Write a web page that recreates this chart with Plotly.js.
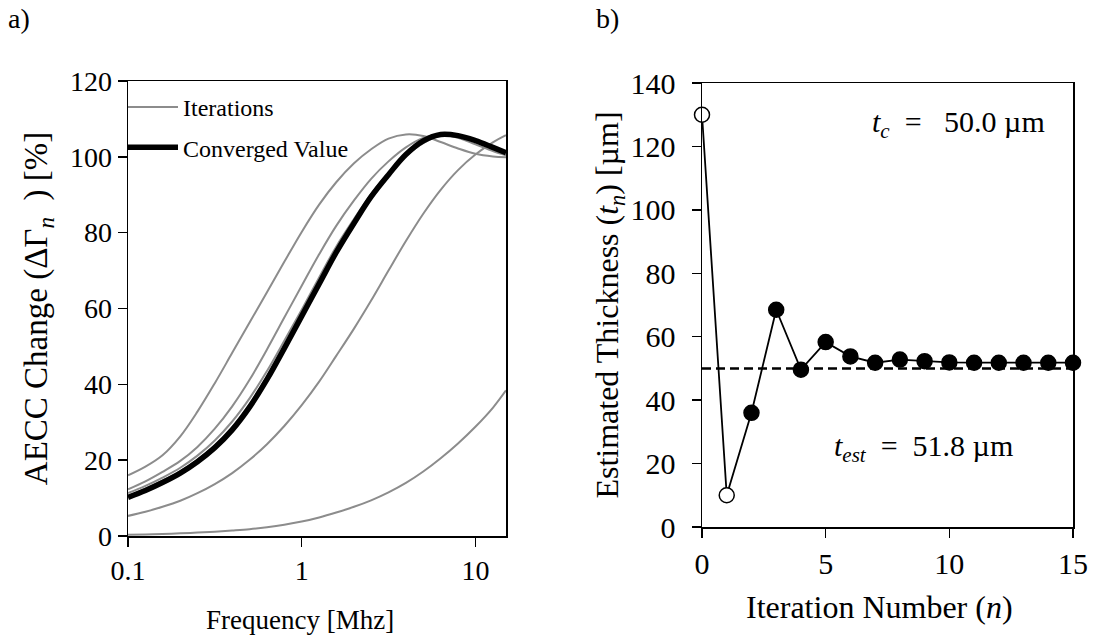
<!DOCTYPE html>
<html>
<head>
<meta charset="utf-8">
<script src="https://cdn.plot.ly/plotly-3.0.1.min.js"></script>
<style>html,body{margin:0;padding:0;background:#fff;}#chart{width:1097px;height:642px;}</style>
</head>
<body>
<div id="chart"></div>
<script>
// ---- Panel a) data ----
const freq = [0.1, 0.126, 0.158, 0.2, 0.251, 0.316, 0.398, 0.501, 0.631, 0.794, 1, 1.26, 1.58, 2, 2.51, 3.16, 3.98, 5.01, 6.31, 7.94, 10, 12.6, 15];
const iterA = [16, 18.3, 21.3, 26.3, 32.8, 40.3, 48.3, 56.3, 64.3, 72.3, 80.2, 87.4, 93.3, 98.3, 102, 104.8, 105.9, 105.5, 103.9, 102.2, 100.8, 100.1, 99.9];
const iterB = [12.3, 14.4, 16.9, 19.8, 23.5, 28.3, 34.2, 41.2, 49.2, 57.6, 66, 74.3, 81.8, 88.5, 94.2, 98.8, 102.5, 105, 105.8, 105, 103.3, 101.5, 100.4];
const iterC = [11.3, 13.2, 15.4, 18, 21.2, 25.2, 30.2, 36.3, 43.5, 51.5, 59.7, 68.2, 76.3, 83.6, 90.2, 95.7, 100.2, 103.6, 105.6, 105.6, 104, 101.9, 100.6];
const iterD = [10.6, 12.5, 14.6, 17.1, 20.1, 23.9, 28.7, 34.7, 42, 50.3, 58.9, 67.4, 75.6, 83.2, 90, 95.6, 100.3, 103.9, 105.8, 105.7, 104.2, 102.2, 100.8];
const iterE = [5.3, 6.4, 7.7, 9.3, 11.3, 13.7, 16.6, 20.1, 24.2, 29, 34.5, 40.7, 47.5, 54.7, 62.1, 70, 77.8, 85, 91.3, 96.5, 100.6, 103.8, 105.7];
const iterF = [0.3, 0.4, 0.55, 0.7, 0.9, 1.15, 1.45, 1.8, 2.3, 2.95, 3.8, 4.9, 6.2, 7.7, 9.4, 11.5, 14, 17, 20.5, 24.4, 28.8, 33.8, 38.4];
const converged = [10.2, 12, 14.1, 16.6, 19.6, 23.3, 28, 34, 41.3, 49.5, 58, 66.5, 74.8, 82.5, 89.5, 95.3, 100.6, 104.2, 105.9, 105.6, 104.3, 102.5, 101.1];
const leftYTicks = [0, 20, 40, 60, 80, 100, 120];
const leftXTicks = [0.1, 1, 10];
const leftXTickText = ['0.1', '1', '10'];

// ---- Panel b) data ----
const iterN = [0, 1, 2, 3, 4, 5, 6, 7, 8, 9, 10, 11, 12, 13, 14, 15];
const thickness = [130, 10, 36, 68.5, 49.6, 58.3, 53.8, 51.8, 52.8, 52.3, 51.9, 51.8, 51.8, 51.8, 51.8, 51.8];
const markerFill = ['white', 'white', 'black', 'black', 'black', 'black', 'black', 'black', 'black', 'black', 'black', 'black', 'black', 'black', 'black', 'black'];
const tcLineX = [0, 15];
const tcLineY = [50, 50];
const rightYTicks = [0, 20, 40, 60, 80, 100, 120, 140];
const rightXTicks = [0, 5, 10, 15];

const FONT = 'Liberation Serif, Times New Roman, serif';
const gray = '#8c8c8c';
const NB = '\u00A0';

const iterSets = [iterA, iterB, iterC, iterD, iterE, iterF];
const traces = iterSets.map((ys, i) => ({
  x: freq, y: ys, type: 'scatter', mode: 'lines',
  line: {color: gray, width: 2, shape: 'spline', smoothing: 1},
  name: 'Iterations', legendgroup: 'g1', showlegend: i === 0,
  xaxis: 'x', yaxis: 'y', hoverinfo: 'skip'
}));
traces.push({
  x: freq, y: converged, type: 'scatter', mode: 'lines',
  line: {color: 'black', width: 5.5, shape: 'spline', smoothing: 1},
  name: 'Converged Value', legendgroup: 'g2', showlegend: true,
  xaxis: 'x', yaxis: 'y'
});
traces.push({
  x: tcLineX, y: tcLineY, type: 'scatter', mode: 'lines',
  line: {color: 'black', width: 2.5, dash: '9px,5px'},
  showlegend: false, xaxis: 'x2', yaxis: 'y2'
});
traces.push({
  x: iterN, y: thickness, type: 'scatter', mode: 'lines+markers',
  line: {color: 'black', width: 1.8},
  marker: {size: 15, color: markerFill, line: {color: 'black', width: 1.5}},
  showlegend: false, xaxis: 'x2', yaxis: 'y2', cliponaxis: false
});

const W = 1097, H = 642;
const axisCommon = {
  showgrid: false, zeroline: false, showline: true, linecolor: 'black', linewidth: 1.5,
  mirror: true, ticks: 'outside', ticklen: 9, tickwidth: 1.5, tickcolor: 'black'
};
const tf = (s) => ({family: FONT, size: s, color: 'black'});

const layout = {
  width: W, height: H,
  margin: {l: 0, r: 0, t: 0, b: 0},
  paper_bgcolor: 'white', plot_bgcolor: 'white',
  font: {family: FONT, color: 'black'},
  showlegend: true,
  legend: {
    x: 123 / W, y: 1 - 85 / H, xanchor: 'left', yanchor: 'top',
    bgcolor: 'rgba(0,0,0,0)', font: tf(24),
    tracegroupgap: 6, itemwidth: 50, traceorder: 'grouped'
  },
  xaxis: Object.assign({}, axisCommon, {
    type: 'log', domain: [128 / W, 506 / W], range: [-1, Math.log10(15)],
    tickvals: leftXTicks, ticktext: leftXTickText, anchor: 'y', tickfont: tf(28)
  }),
  yaxis: Object.assign({}, axisCommon, {
    domain: [(H - 536) / H, (H - 81) / H], range: [0, 120],
    tickvals: leftYTicks, anchor: 'x', tickfont: tf(28),
    title: {text: 'AECC Change (ΔΓ<sub><i>n</i></sub>' + NB + NB + ') [%]', font: tf(33), standoff: 12}
  }),
  xaxis2: Object.assign({}, axisCommon, {
    domain: [702 / W, 1073 / W], range: [0, 15],
    tickvals: rightXTicks, anchor: 'y2', tickfont: tf(30)
  }),
  yaxis2: Object.assign({}, axisCommon, {
    domain: [(H - 527) / H, (H - 83) / H], range: [0, 140],
    tickvals: rightYTicks, anchor: 'x2', tickfont: tf(30), ticklabelstandoff: 10,
    title: {text: 'Estimated Thickness (<i>t<sub>n</sub></i>) [µm]', font: tf(32), standoff: 2}
  }),
  annotations: [
    {text: 'a)', xref: 'paper', yref: 'paper', x: 6 / W, y: 1 - 19 / H, xanchor: 'left', yanchor: 'middle', showarrow: false, font: tf(28)},
    {text: 'b)', xref: 'paper', yref: 'paper', x: 594 / W, y: 1 - 19 / H, xanchor: 'left', yanchor: 'middle', showarrow: false, font: tf(28)},
    {text: 'Frequency [Mhz]', xref: 'paper', yref: 'paper', x: 300 / W, y: 1 - 620 / H, xanchor: 'center', yanchor: 'middle', showarrow: false, font: tf(27)},
    {text: 'Iteration Number (<i>n</i>)', xref: 'paper', yref: 'paper', x: 879 / W, y: 1 - 607 / H, xanchor: 'center', yanchor: 'middle', showarrow: false, font: tf(32)},
    {text: '<i>t<sub>c</sub></i>' + NB + NB + '=' + NB + NB + NB + '50.0 µm', xref: 'x2', yref: 'y2', x: 10.37, y: 127, xanchor: 'center', yanchor: 'middle', showarrow: false, font: tf(30)},
    {text: '<i>t<sub>est</sub></i>' + NB + NB + '=' + NB + NB + '51.8 µm', xref: 'x2', yref: 'y2', x: 8.96, y: 25, xanchor: 'center', yanchor: 'middle', showarrow: false, font: tf(30)}
  ]
};

Plotly.newPlot('chart', traces, layout, {staticPlot: true, displayModeBar: false});
</script>
</body>
</html>
